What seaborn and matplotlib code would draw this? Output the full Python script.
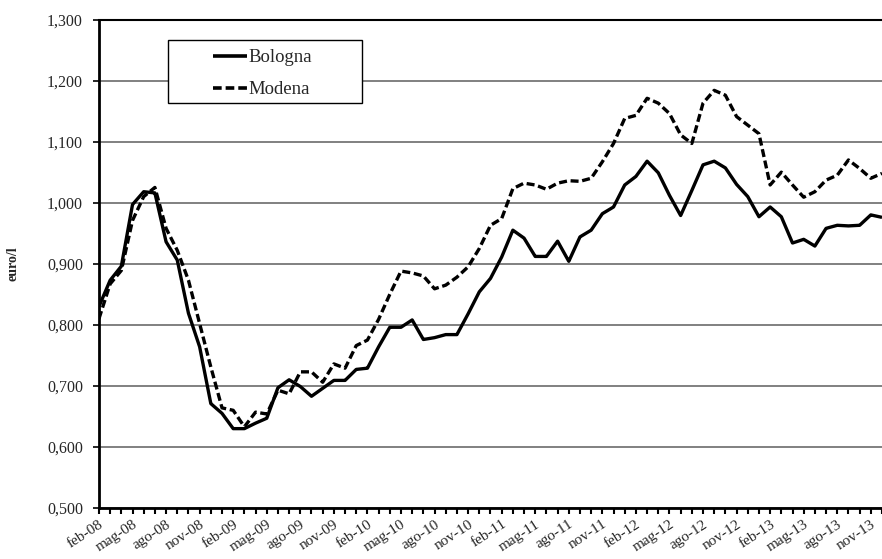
import pandas as pd
import matplotlib.pyplot as plt
import seaborn as sns
from matplotlib.patches import Rectangle
from matplotlib.ticker import FuncFormatter, MultipleLocator

# Monthly categories feb-08 .. dic-13
mesi = ['gen', 'feb', 'mar', 'apr', 'mag', 'giu', 'lug', 'ago', 'set', 'ott', 'nov', 'dic']
anni = ['08', '09', '10', '11', '12', '13']
periodi = [f"{m}-{a}" for a in anni for m in mesi][1:]

bologna = [0.830, 0.873, 0.896, 0.997, 1.018, 1.016, 0.936, 0.906, 0.819, 0.764,
           0.671, 0.655, 0.630, 0.630, 0.639, 0.647, 0.697, 0.710, 0.699, 0.683,
           0.696, 0.709, 0.709, 0.727, 0.729, 0.764, 0.796, 0.796, 0.808, 0.776,
           0.779, 0.784, 0.784, 0.818, 0.854, 0.876, 0.911, 0.955, 0.942, 0.912,
           0.912, 0.937, 0.904, 0.944, 0.955, 0.982, 0.993, 1.029, 1.043, 1.068,
           1.049, 1.012, 0.979, 1.020, 1.062, 1.068, 1.057, 1.030, 1.010, 0.977,
           0.993, 0.977, 0.934, 0.940, 0.929, 0.958, 0.963, 0.962, 0.963, 0.980,
           0.976]
modena = [0.810, 0.867, 0.889, 0.971, 1.010, 1.025, 0.958, 0.922, 0.873, 0.802,
          0.731, 0.664, 0.660, 0.633, 0.657, 0.654, 0.693, 0.687, 0.723, 0.723,
          0.706, 0.736, 0.729, 0.766, 0.775, 0.809, 0.850, 0.888, 0.885, 0.880,
          0.859, 0.865, 0.878, 0.895, 0.925, 0.963, 0.974, 1.023, 1.032, 1.029,
          1.022, 1.032, 1.036, 1.035, 1.040, 1.067, 1.097, 1.138, 1.143, 1.171,
          1.163, 1.146, 1.111, 1.097, 1.163, 1.184, 1.176, 1.141, 1.127, 1.113,
          1.029, 1.050, 1.029, 1.009, 1.018, 1.037, 1.045, 1.070, 1.056, 1.040,
          1.048]

df = pd.DataFrame({
    'idx': list(range(len(periodi))) * 2,
    'prezzo': bologna + modena,
    'citta': ['Bologna'] * len(bologna) + ['Modena'] * len(modena),
})

sns.set_style("white")
plt.rcParams['font.family'] = ['Liberation Serif', 'DejaVu Serif']

fig = plt.figure(figsize=(8.82, 5.59), dpi=100)
ax = fig.add_axes([0.1122, 0.0912, 0.8878, 0.8739])

sns.lineplot(data=df, x='idx', y='prezzo', hue='citta', style='citta',
             palette=['black', 'black'], dashes=[(1, 0), (2.4, 1.1)],
             linewidth=2.4, ax=ax, legend=True)

ax.set_xlim(0, len(periodi) - 1)
ax.set_ylim(0.5, 1.3)
ax.yaxis.set_major_locator(MultipleLocator(0.1))
ax.yaxis.set_major_formatter(FuncFormatter(lambda v, p: f"{v:.3f}".replace('.', ',')))
ax.grid(axis='y', color='#767676', linewidth=1.3)
ax.set_axisbelow(True)

ax.set_xticks(range(0, len(periodi), 3))
ax.set_xticklabels(periodi[::3], rotation=33, ha='right', rotation_mode='anchor')
ax.set_xticks(range(len(periodi)), minor=True)
ax.tick_params(axis='x', which='both', direction='out', length=4.5, width=1.5,
               color='black', labelsize=11, pad=2.5, bottom=True)
ax.tick_params(axis='y', direction='out', length=4.5, width=1.2, color='black',
               labelsize=11.5, pad=7, left=True)

for s in ['left', 'bottom']:
    ax.spines[s].set_color('black')
    ax.spines[s].set_linewidth(2)
ax.spines['top'].set_color('black')
ax.spines['top'].set_linewidth(1.5)
ax.spines['right'].set_visible(False)

ax.set_xlabel('')
ax.set_ylabel('euro/l', fontsize=10, fontweight='bold', labelpad=20)

# legend box drawn like the Excel one (wide side padding)
box = Rectangle((0.1908, 0.8163), 0.2193, 0.1122, transform=fig.transFigure,
                facecolor='white', edgecolor='black', linewidth=1.0, zorder=3)
ax.add_patch(box)
leg = ax.legend(loc='upper left', bbox_to_anchor=(213 / 882, 1 - 49 / 559),
                bbox_transform=fig.transFigure, fontsize=13.5, frameon=False,
                handlelength=1.8, handletextpad=0.1, borderpad=0,
                labelspacing=0.8, borderaxespad=0)
leg.set_zorder(4)
for h in leg.get_lines():
    h.set_linewidth(2.6)

fig.savefig("out.png", dpi=100)
